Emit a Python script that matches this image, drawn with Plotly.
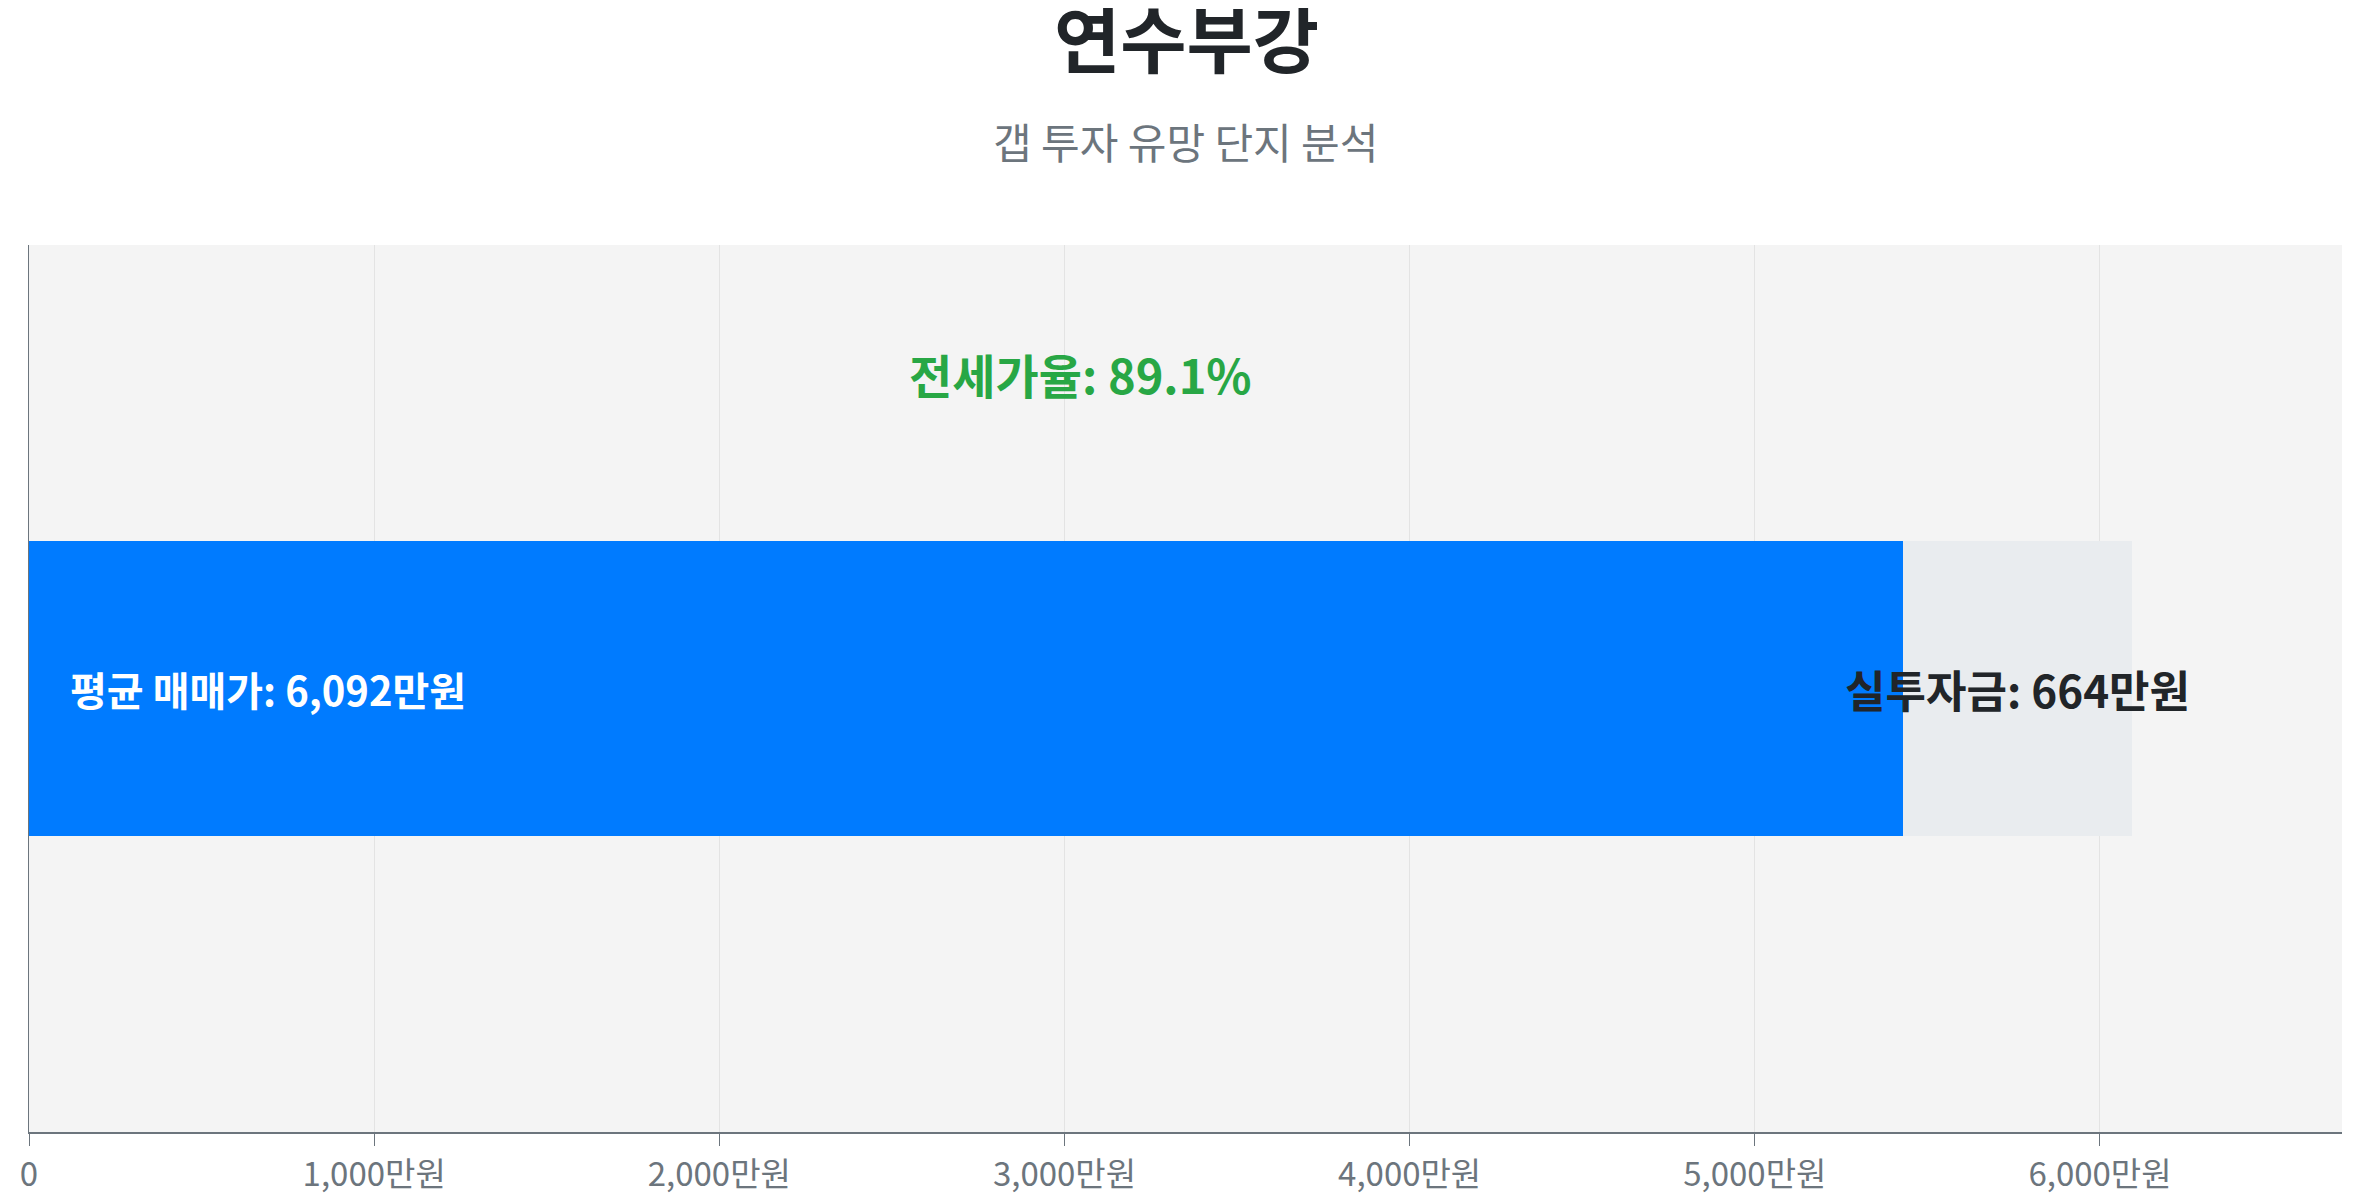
import plotly.graph_objects as go

# 연수부강 갭 투자 분석 (단위: 만원)
complex_name = ['연수부강']
sale_price = [6092]
jeonse_price = [5428]
gap_amount = [664]
jeonse_ratio = 89.1

tick_vals = [0, 1000, 2000, 3000, 4000, 5000, 6000]
tick_text = ['0', '1,000만원', '2,000만원', '3,000만원', '4,000만원', '5,000만원', '6,000만원']

FONT = 'Noto Sans CJK KR'

fig = go.Figure()
fig.add_trace(go.Bar(y=complex_name, x=jeonse_price, orientation='h', width=1,
                     marker=dict(color='#007bff', line=dict(width=0)), hoverinfo='skip'))
fig.add_trace(go.Bar(y=complex_name, x=gap_amount, orientation='h', width=1,
                     marker=dict(color='#e9ecef', line=dict(width=0)), hoverinfo='skip'))

# bar labels
fig.add_annotation(x=0, y=complex_name[0], xref='x', yref='y', xanchor='left', xshift=39,
                   text=f'<b>평균 매매가: {sale_price[0]:,}만원</b>', showarrow=False,
                   font=dict(family=FONT, size=40, color='white'))
fig.add_annotation(x=jeonse_price[0] + gap_amount[0] / 2, y=complex_name[0], xref='x', yref='y',
                   text=f'<b>실투자금: {gap_amount[0]:,}만원</b>', showarrow=False,
                   font=dict(family=FONT, size=44, color='#212529'))
fig.add_annotation(x=sale_price[0] / 2, y=0.855, xref='x', yref='paper', yanchor='middle',
                   text=f'<b>전세가율: {jeonse_ratio}%</b>', showarrow=False,
                   font=dict(family=FONT, size=47, color='#28a745'))
# subtitle
fig.add_annotation(x=0.5, y=1.118, xref='paper', yref='paper', yanchor='middle',
                   text='갭 투자 유망 단지 분석', showarrow=False,
                   font=dict(family=FONT, size=42, color='#6c757d'))

fig.update_layout(
    barmode='stack',
    width=2357, height=1200,
    showlegend=False,
    paper_bgcolor='white',
    plot_bgcolor='#f4f4f4',
    margin=dict(l=13, r=23, t=237, b=63),
    title=dict(text='<b>연수부강</b>', x=0.5, xanchor='center', y=0.972, yanchor='middle',
               font=dict(family=FONT, size=72, color='#212529')),
    font=dict(family=FONT),
)
fig.update_xaxes(range=[0, sale_price[0] * 1.1], tickvals=tick_vals, ticktext=tick_text,
                 showgrid=True, gridcolor='#e3e3e3', gridwidth=1, zeroline=False,
                 showline=True, linecolor='#6c757d', linewidth=2,
                 ticks='outside', ticklen=12, tickcolor='#6c757d', tickwidth=1,
                 tickfont=dict(family=FONT, size=33, color='#6c757d'))
fig.update_yaxes(range=[-1.5, 1.5], showticklabels=False, showgrid=False, zeroline=False,
                 showline=True, linecolor='#6c757d', linewidth=1, ticks='')

fig.write_html("out.html")
